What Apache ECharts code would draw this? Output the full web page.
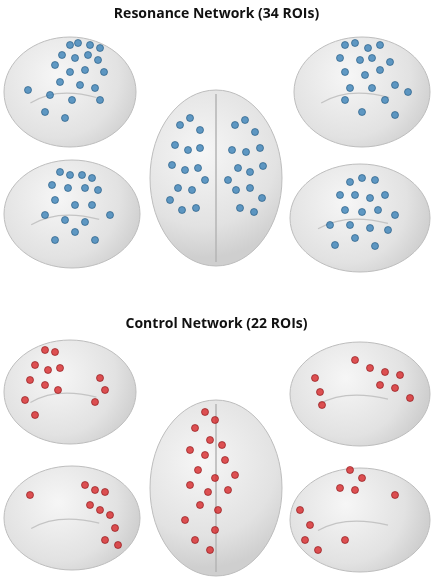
<!DOCTYPE html>
<html><head><meta charset="utf-8">
<script src="https://cdn.jsdelivr.net/npm/echarts@6/dist/echarts.min.js"></script>
<style>html,body{margin:0;padding:0;background:#fff}#c{width:433px;height:577px}</style>
</head><body><div id="c"></div>
<script>
const titles = ["Resonance Network (34 ROIs)", "Control Network (22 ROIs)"];
// brain outlines: [cx, cy, rx, ry, kind] kind 0 lateral, 1 axial
const brains = [
 [70,92,66,55,0],[362,92,68,55,0],[72,214,68,54,0],[360,218,70,54,0],[216,178,66,88,1],
 [70,392,66,52,0],[360,394,70,52,0],[72,518,68,52,0],[360,520,70,52,0],[216,488,66,88,1]
];
const resonance = [[70,45],[78,43],[90,45],[100,48],[62,55],[75,58],[88,55],[98,60],[55,65],[70,72],[85,70],[104,72],[60,82],[80,85],[95,88],[50,95],[72,100],[100,100],[45,112],[65,118],[28,90],
[345,45],[355,43],[368,48],[380,45],[340,58],[360,60],[372,58],[390,62],[345,72],[365,75],[380,70],[350,88],[372,88],[395,85],[385,100],[345,100],[362,112],[395,115],[408,92],
[60,172],[70,175],[82,175],[92,178],[52,185],[68,188],[85,188],[98,190],[55,200],[75,205],[92,205],[45,215],[65,220],[85,222],[110,215],[55,240],[95,240],[75,232],
[350,182],[362,178],[375,180],[340,195],[355,195],[370,198],[385,195],[345,210],[362,212],[378,210],[395,215],[330,225],[350,225],[370,228],[388,230],[335,245],[355,238],[375,246],
[180,125],[190,118],[200,130],[175,145],[188,150],[200,148],[172,165],[185,170],[198,168],[178,188],[192,190],[205,180],[182,210],[196,208],[170,200],[235,125],[245,120],[255,132],[232,150],[246,152],[260,148],[238,168],[250,172],[263,166],[236,190],[250,188],[262,198],[240,208],[254,212],[228,180]];
const control = [[45,350],[55,352],[35,365],[48,370],[60,368],[30,380],[45,385],[58,390],[25,400],[35,415],[100,378],[105,390],[95,402],
[355,360],[370,368],[385,372],[380,385],[395,388],[400,375],[315,378],[320,392],[322,405],[410,398],
[85,485],[95,490],[105,492],[90,505],[100,510],[110,515],[115,528],[105,540],[118,545],[30,495],
[350,470],[362,478],[340,488],[355,490],[300,510],[310,525],[305,540],[318,550],[345,540],[395,495],
[205,412],[215,420],[195,428],[210,440],[222,445],[190,450],[205,455],[225,460],[198,470],[215,478],[235,475],[190,485],[208,492],[228,490],[200,505],[218,510],[185,520],[215,530],[195,540],[210,550]];

const chart = echarts.init(document.getElementById('c'));
const fill = new echarts.graphic.RadialGradient(0.4,0.35,0.8,[{offset:0,color:'#f6f6f6'},{offset:0.7,color:'#e2e2e2'},{offset:1,color:'#cfcfcf'}]);
chart.setOption({
 animation:false,
 title:[{text:titles[0],left:'center',top:2,textStyle:{fontFamily:'Open Sans',fontSize:14,fontWeight:'bold',color:'#111'}},
        {text:titles[1],left:'center',top:312,textStyle:{fontFamily:'Open Sans',fontSize:14,fontWeight:'bold',color:'#111'}}],
 grid:{left:0,right:0,top:0,bottom:0},
 xAxis:{min:0,max:433,show:false},
 yAxis:{min:0,max:577,inverse:true,show:false},
 series:[
  {type:'custom',data:brains,z:1,renderItem:(p,api)=>{
    const c=api.coord([api.value(0),api.value(1)]);
    const rx=api.size([api.value(2),0])[0], ry=api.size([0,api.value(3)])[1];
    const kids=[{type:'ellipse',shape:{cx:c[0],cy:c[1],rx:rx,ry:ry},style:{fill:fill,stroke:'#bdbdbd',lineWidth:1}}];
    if(api.value(4)===1){kids.push({type:'line',shape:{x1:c[0],y1:c[1]-ry+4,x2:c[0],y2:c[1]+ry-4},style:{stroke:'#b5b5b5',lineWidth:1.5}});}
    else{kids.push({type:'bezierCurve',shape:{x1:c[0]-rx*0.6,y1:c[1]+ry*0.2,x2:c[0]+rx*0.4,y2:c[1]+ry*0.1,cpx1:c[0]-rx*0.2,cpy1:c[1]-ry*0.1},style:{stroke:'#c4c4c4',fill:null,lineWidth:1.2}});}
    return {type:'group',children:kids};
  }},
  {type:'scatter',data:resonance,symbolSize:7,z:3,itemStyle:{color:'#3b82b8',borderColor:'#1f5680',borderWidth:0.8}},
  {type:'scatter',data:control,symbolSize:7,z:3,itemStyle:{color:'#d8282a',borderColor:'#8a1214',borderWidth:0.8}}
 ]
});
</script></body></html>
